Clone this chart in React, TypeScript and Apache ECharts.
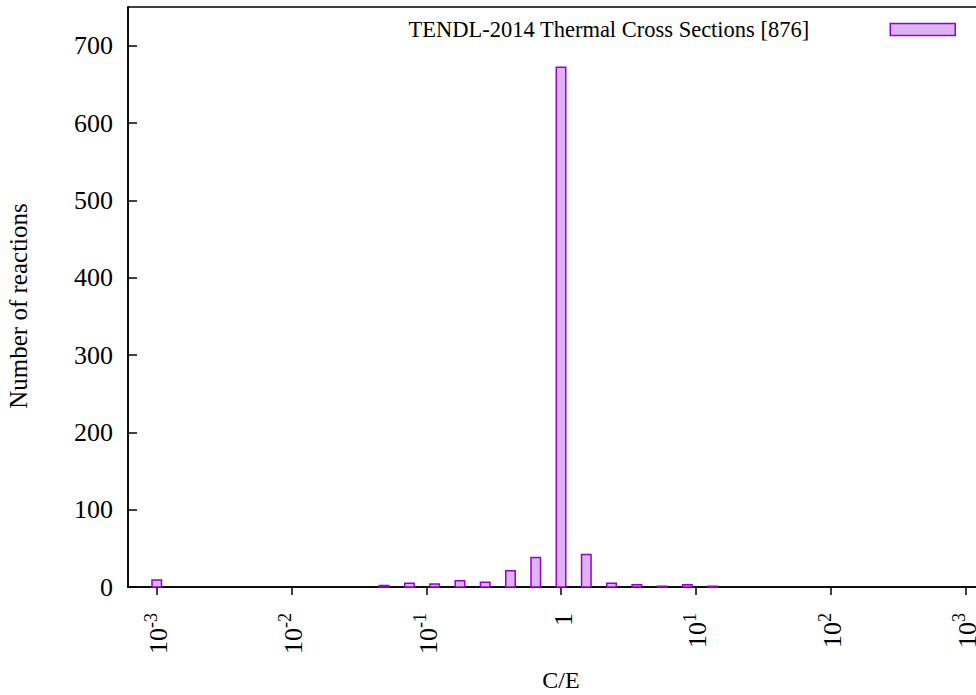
import React, { useEffect, useRef } from 'react';
import * as echarts from 'echarts';

// C/E bin centres (logarithmic bins) and number of reactions in each
const ratioBins = [0.001, 0.0487, 0.075, 0.1155, 0.1778, 0.2738, 0.4217, 0.6494, 1, 1.54, 2.371, 3.652, 5.623, 8.66, 13.34];
const counts = [9, 2, 5, 4, 8, 6, 21, 38, 672, 42, 5, 3, 1, 3, 1];

const xTickValues = [0.001, 0.01, 0.1, 1, 10, 100, 1000];
const yTickValues = [0, 100, 200, 300, 400, 500, 600, 700];

const seriesName = 'TENDL-2014 Thermal Cross Sections [876]';
const xAxisTitle = 'C/E';
const yAxisTitle = 'Number of reactions';

const FONT = '"Liberation Serif", "Times New Roman", "DejaVu Serif", serif';
const FILL = '#dfb3f2';
const STROKE = '#9400d3';

export default function App() {
  const ref = useRef<HTMLDivElement>(null);

  useEffect(() => {
    document.body.style.margin = '0';
    const chart = echarts.init(ref.current!, null, { renderer: 'svg' });
    const data = ratioBins.map((x, i) => [x, counts[i]]);

    chart.setOption({
      animation: false,
      backgroundColor: '#ffffff',
      textStyle: { fontFamily: FONT, color: '#000' },
      grid: {
        left: 128,
        top: 7,
        bottom: 108,
        right: -18,
        outerBoundsMode: 'none',
        containLabel: false,
        show: true,
        borderColor: '#000',
        borderWidth: 1.5,
        backgroundColor: 'transparent',
      },
      legend: {
        show: true,
        orient: 'horizontal',
        top: 13,
        right: 15,
        align: 'right',
        itemWidth: 65,
        itemHeight: 12,
        textStyle: { fontFamily: FONT, fontSize: 22.5, color: '#000', padding: [0, 76, 8, 0] },
        data: [
          {
            name: seriesName,
            icon: 'rect',
            itemStyle: { color: FILL, borderColor: STROKE, borderWidth: 1.5 },
          },
        ],
      },
      xAxis: {
        type: 'log',
        logBase: 10,
        min: 0.000612,
        max: 1633,
        name: xAxisTitle,
        nameLocation: 'middle',
        nameGap: 81,
        nameMoveOverlap: false,
        nameTextStyle: { fontFamily: FONT, fontSize: 24, color: '#000' },
        axisLine: { show: true, onZero: false, lineStyle: { color: '#000', width: 1.5 } },
        axisTick: {
          show: true,
          inside: false,
          length: 8,
          customValues: xTickValues,
          lineStyle: { color: '#000', width: 1.5 },
        },
        axisLabel: {
          show: true,
          rotate: 90,
          margin: 26,
          customValues: xTickValues,
          color: '#000',
          fontFamily: FONT,
          formatter: (v: number) => {
            const e = Math.round(Math.log10(v));
            if (e === 0) return '{b|1}';
            return '{b|10}{s|' + e + '}';
          },
          rich: {
            b: { fontFamily: FONT, fontSize: 26, color: '#000', lineHeight: 30, verticalAlign: 'bottom' },
            s: { fontFamily: FONT, fontSize: 18, color: '#000', lineHeight: 30, verticalAlign: 'top' },
          },
        },
        splitLine: { show: false },
        minorTick: { show: false },
        minorSplitLine: { show: false },
      },
      yAxis: {
        type: 'value',
        min: 0,
        max: 750,
        interval: 100,
        name: yAxisTitle,
        nameLocation: 'middle',
        nameGap: 97,
        nameMoveOverlap: false,
        nameRotate: 90,
        nameTextStyle: { fontFamily: FONT, fontSize: 25, color: '#000', padding: [0, 18, 0, 0] },
        axisLine: { show: true, lineStyle: { color: '#000', width: 1.5 } },
        axisTick: {
          show: true,
          inside: true,
          length: 9,
          customValues: yTickValues,
          lineStyle: { color: '#000', width: 1.5 },
        },
        axisLabel: {
          show: true,
          margin: 15,
          customValues: yTickValues,
          fontFamily: FONT,
          fontSize: 26,
          color: '#000',
        },
        splitLine: { show: false },
      },
      series: [
        {
          name: seriesName,
          type: 'custom',
          coordinateSystem: 'cartesian2d',
          itemStyle: { color: FILL, borderColor: STROKE, borderWidth: 1.5 },
          encode: { x: 0, y: 1 },
          data,
          renderItem: (params: any, api: any) => {
            const x = api.value(0);
            const y = api.value(1);
            const top = api.coord([x, y]);
            const base = api.coord([x, 0]);
            const w = 9.5;
            return {
              type: 'rect',
              shape: { x: top[0] - w / 2, y: top[1], width: w, height: base[1] - top[1] },
              style: { fill: FILL, stroke: STROKE, lineWidth: 1.5 },
            };
          },
        },
      ],
    });

    return () => chart.dispose();
  }, []);

  return <div ref={ref} style={{ width: 976, height: 695 }} />;
}
